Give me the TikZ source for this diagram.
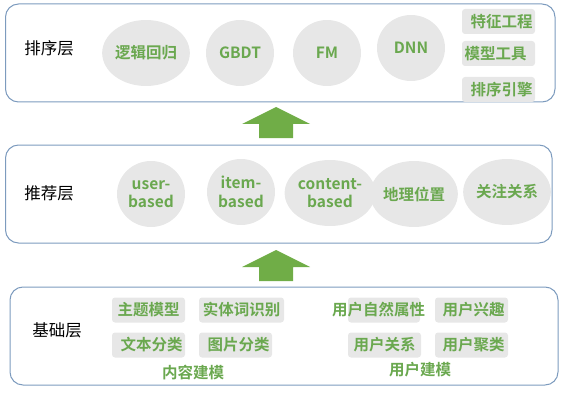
\documentclass[tikz,border=0pt]{standalone}
\usepackage{fontspec}
\setmainfont{Noto Sans CJK SC}[BoldFont={Noto Sans CJK SC Bold}]
\usetikzlibrary{shapes.geometric}
\definecolor{boxblue}{RGB}{125,155,190}
\definecolor{txtgreen}{RGB}{106,168,79}
\definecolor{arrgreen}{RGB}{112,173,71}
\definecolor{bubble}{RGB}{231,231,231}
\begin{document}
\begin{tikzpicture}[x=1pt,y=-1pt,
  layer/.style={draw=boxblue,line width=1pt,rounded corners=13pt},
  layername/.style={font=\fontsize{16.5}{18}\selectfont,text=black},
  bub/.style={ellipse,fill=bubble,minimum width=68pt,minimum height=66pt,inner sep=0pt,
    align=center,text=txtgreen,font=\bfseries\fontsize{15.5}{18.5}\selectfont},
  tag/.style={fill=bubble,rounded corners=3pt,minimum height=25pt,inner sep=0pt,
    text=txtgreen,font=\bfseries\fontsize{15.5}{17}\selectfont},
  grp/.style={text=txtgreen,font=\bfseries\fontsize{15.5}{17}\selectfont},
  blockarrow/.style={fill=arrgreen}]
\useasboundingbox (0,0) rectangle (575,393);
% layers
\draw[layer] (5.5,4) rectangle (555,102);
\draw[layer] (5.5,145) rectangle (552,243);
\draw[layer] (10,287) rectangle (558,385);
% top layer
\node[layername] (l1) at (49,48) {排序层};
\node[bub] (c11) at (146,53) {逻辑回归};
\node[bub] (c12) at (240,53) {GBDT};
\node[bub] (c13) at (327,53) {FM};
\node[bub] (c14) at (411,48) {DNN};
\node[tag,minimum width=73pt] (t1) at (498.5,21.5) {\hspace*{6pt}特征工程};
\node[tag,minimum width=73pt] (t2) at (498.5,53.5) {模型工具\hspace*{6pt}};
\node[tag,minimum width=73pt] (t3) at (498.5,89.5) {\hspace*{6pt}排序引擎};
% arrows
\fill[blockarrow] (259,138) -- (259,124) -- (242,124) -- (276,107) -- (310,124) -- (293,124) -- (293,138) -- cycle;
\fill[blockarrow] (259,281) -- (259,267) -- (242,267) -- (276,250) -- (310,267) -- (293,267) -- (293,281) -- cycle;
% middle layer
\node[layername] (l2) at (49,193) {推荐层};
\node[bub] (c21) at (151,194) {user-\\based};
\node[bub] (c22) at (241,192) {item-\\based};
\node[bub] (c23) at (330,193) {content-\\based};
\node[bub] (c24) at (414,194) {地理位置};
\node[bub] (c25) at (507,192) {关注关系};
% bottom layer
\node[layername] (l3) at (57,330) {基础层};
\node[tag,minimum width=73pt] (b1) at (148.5,310) {主题模型};
\node[tag,minimum width=85pt] (b2) at (241.5,310) {实体词识别};
\node[tag,minimum width=73pt] (b3) at (148.5,345) {\hspace*{6pt}文本分类};
\node[tag,minimum width=73pt] (b4) at (235.5,345) {\hspace*{6pt}图片分类};
\node[grp] (g1) at (193,373) {内容建模};
\fill[bubble,rounded corners=3pt] (348,297.5) rectangle (420,322.5);
\node[grp] (b5) at (378.5,310) {用户自然属性};
\node[tag,minimum width=73pt] (b6) at (471.5,310) {\hspace*{4pt}用户兴趣};
\node[tag,minimum width=73pt] (b7) at (384.5,345) {用户关系};
\node[tag,minimum width=73pt] (b8) at (471.5,345) {\hspace*{4pt}用户聚类};
\node[grp] (g2) at (420,370) {用户建模};
\end{tikzpicture}
\end{document}
